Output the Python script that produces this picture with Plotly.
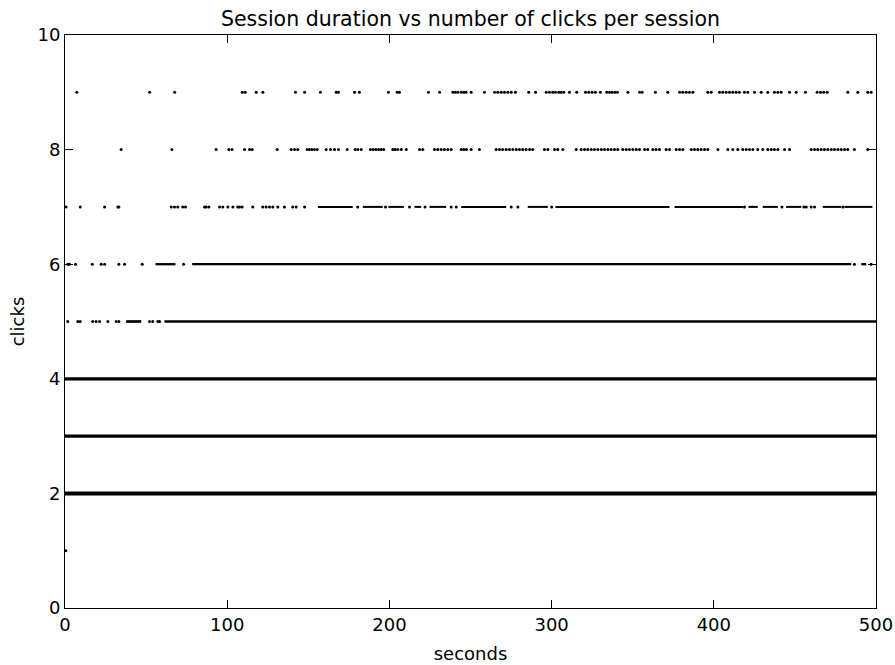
import plotly.graph_objects as go

# Session duration (seconds) of individual sessions, grouped by click count.
# Sparse sessions are listed one by one; stretches where sessions are packed
# so tightly that they merge into a solid band are kept as (start, end) runs.

row1_x = [0.5]

row2_runs = [(0.0, 500.0)]
row3_runs = [(0.0, 500.0)]
row4_runs = [(0.0, 500.0)]

row5_x = [1.7, 7.9, 9.4, 17.1, 19.2, 21.3, 26.4, 31.6, 33.2, 52.1, 54.1, 57.2, 58.3]
row5_runs = [(37.7, 47.0), (61.3, 500.0)]

row6_x = [1.7, 2.8, 6.5, 16.8, 22.3, 24.4, 33.2, 36.7, 47.6, 73.1, 486.7, 497.0]
row6_runs = [(55.8, 68.1), (78.4, 484.7), (490.9, 494.0)]

row7_x = [0.7, 9.4, 24.4, 32.6, 33.2, 65.5, 67.5, 69.5, 72.6, 74.3, 86.0, 87.0,
          88.7, 95.3, 97.3, 100.4, 103.5, 106.5, 107.6, 109.2, 115.8, 121.9,
          124.0, 126.1, 128.1, 131.2, 135.3, 140.4, 142.5, 147.7, 180.5, 197.6,
          212.4, 222.0, 238.1, 241.2, 275.1, 279.2, 300.0, 418.9, 442.0, 455.5,
          457.0, 460.0, 462.1, 479.6]
row7_runs = [(155.9, 177.4), (183.6, 195.9), (199.4, 208.9), (215.5, 219.6),
             (224.7, 235.0), (244.3, 272.0), (285.3, 297.7), (302.4, 372.7),
             (375.8, 417.9), (421.4, 427.1), (430.2, 439.5), (444.6, 453.9),
             (467.2, 478.5), (480.6, 497.8)]

row8_x = [34.6, 65.9, 93.2, 101.0, 103.0, 110.7, 113.8, 115.4, 130.8, 139.4,
          141.5, 143.5, 149.3, 150.7, 152.2, 153.8, 155.5, 161.0, 163.7, 166.2,
          168.6, 174.0, 178.9, 180.5, 182.6, 188.3, 190.0, 191.6, 193.3, 194.9,
          196.5, 202.1, 203.6, 205.2, 207.3, 210.4, 218.6, 220.6, 227.8, 229.8,
          231.9, 233.9, 236.0, 238.1, 244.3, 245.9, 247.5, 250.4, 255.5, 265.8,
          267.9, 269.9, 272.0, 274.0, 276.1, 278.2, 280.2, 282.2, 284.3, 286.4,
          288.4, 295.6, 297.7, 301.8, 303.8, 306.9, 315.2, 318.2, 320.3, 322.3,
          324.4, 326.4, 328.5, 330.6, 332.6, 334.7, 336.7, 338.8, 340.8, 343.9,
          346.0, 348.0, 350.1, 352.2, 354.2, 357.3, 359.3, 362.4, 364.4, 366.5,
          370.6, 372.7, 376.8, 378.9, 380.9, 386.1, 388.1, 390.1, 392.2, 394.3,
          396.3, 402.5, 408.6, 411.7, 414.8, 417.9, 420.0, 422.0, 424.1, 427.1,
          430.2, 433.3, 435.4, 437.4, 439.5, 443.6, 446.7, 460.0, 462.1, 464.1,
          466.2, 468.2, 470.3, 472.4, 474.4, 476.5, 478.5, 480.6, 482.6, 486.7,
          494.9]

row9_x = [7.3, 52.2, 67.6, 109.3, 111.1, 117.9, 122.0, 142.1, 147.7, 157.5,
          167.2, 168.6, 178.5, 181.5, 199.4, 204.8, 206.2, 224.1, 230.9, 239.1,
          240.6, 242.2, 244.3, 245.9, 247.3, 250.4, 258.6, 264.8, 266.8, 268.9,
          270.9, 273.0, 275.1, 277.7, 285.9, 290.1, 296.7, 298.7, 300.7, 302.4,
          304.4, 305.9, 307.5, 311.0, 315.5, 320.9, 322.9, 325.0, 327.0, 330.1,
          334.0, 335.7, 337.3, 339.0, 340.6, 347.0, 354.2, 355.8, 364.0, 371.6,
          378.9, 380.9, 383.0, 385.0, 387.1, 396.3, 398.4, 403.5, 405.5, 407.6,
          409.7, 411.7, 413.8, 415.8, 418.9, 421.0, 425.1, 429.2, 433.3, 437.4,
          439.5, 441.5, 446.7, 450.8, 456.5, 463.7, 465.8, 467.8, 469.9, 482.6,
          488.8, 494.9, 497.0]

x_ticks = [0, 100, 200, 300, 400, 500]
y_ticks = [0, 2, 4, 6, 8, 10]

points = {1: row1_x, 5: row5_x, 6: row6_x, 7: row7_x, 8: row8_x, 9: row9_x}
runs = {2: row2_runs, 3: row3_runs, 4: row4_runs, 5: row5_runs,
        6: row6_runs, 7: row7_runs}
band_width = {2: 4, 3: 3.2, 4: 3.2, 5: 2.7, 6: 2.3, 7: 2.0}

fig = go.Figure()

for clicks, segs in runs.items():
    xs, ys = [], []
    for start, end in segs:
        xs += [start, end, None]
        ys += [clicks, clicks, None]
    fig.add_trace(go.Scatter(
        x=xs, y=ys, mode="lines", connectgaps=False,
        line=dict(color="black", width=band_width[clicks]),
        hoverinfo="skip", showlegend=False,
    ))

for clicks, xs in points.items():
    fig.add_trace(go.Scatter(
        x=xs, y=[clicks] * len(xs), mode="markers",
        marker=dict(color="black", size=3.0, line=dict(width=0)),
        showlegend=False,
    ))

font_family = "DejaVu Sans"
axis_common = dict(
    showgrid=False, zeroline=False, automargin=False,
    showline=True, linecolor="black", linewidth=1, mirror="ticks",
    ticks="inside", ticklen=8, tickwidth=1, tickcolor="black",
    tickfont=dict(family=font_family, size=18, color="black"),
)

fig.update_xaxes(
    range=[0, 500], tickvals=x_ticks, ticktext=[str(v) for v in x_ticks],
    title=dict(text="seconds", font=dict(family=font_family, size=18, color="black"),
               standoff=13),
    **axis_common,
)
fig.update_yaxes(
    range=[0, 10], tickvals=y_ticks, ticktext=[str(v) for v in y_ticks],
    title=dict(text="clicks", font=dict(family=font_family, size=18, color="black"),
               standoff=8),
    **axis_common,
)

fig.update_layout(
    width=895, height=665,
    margin=dict(l=65, r=19, t=35, b=57),
    paper_bgcolor="white", plot_bgcolor="white",
    title=dict(
        text="Session duration vs number of clicks per session",
        font=dict(family=font_family, size=20.5, color="black"),
        x=470.5 / 895, xanchor="center", xref="container",
        y=1 - 19 / 665, yanchor="middle", yref="container",
    ),
)

fig.write_html("out.html")
